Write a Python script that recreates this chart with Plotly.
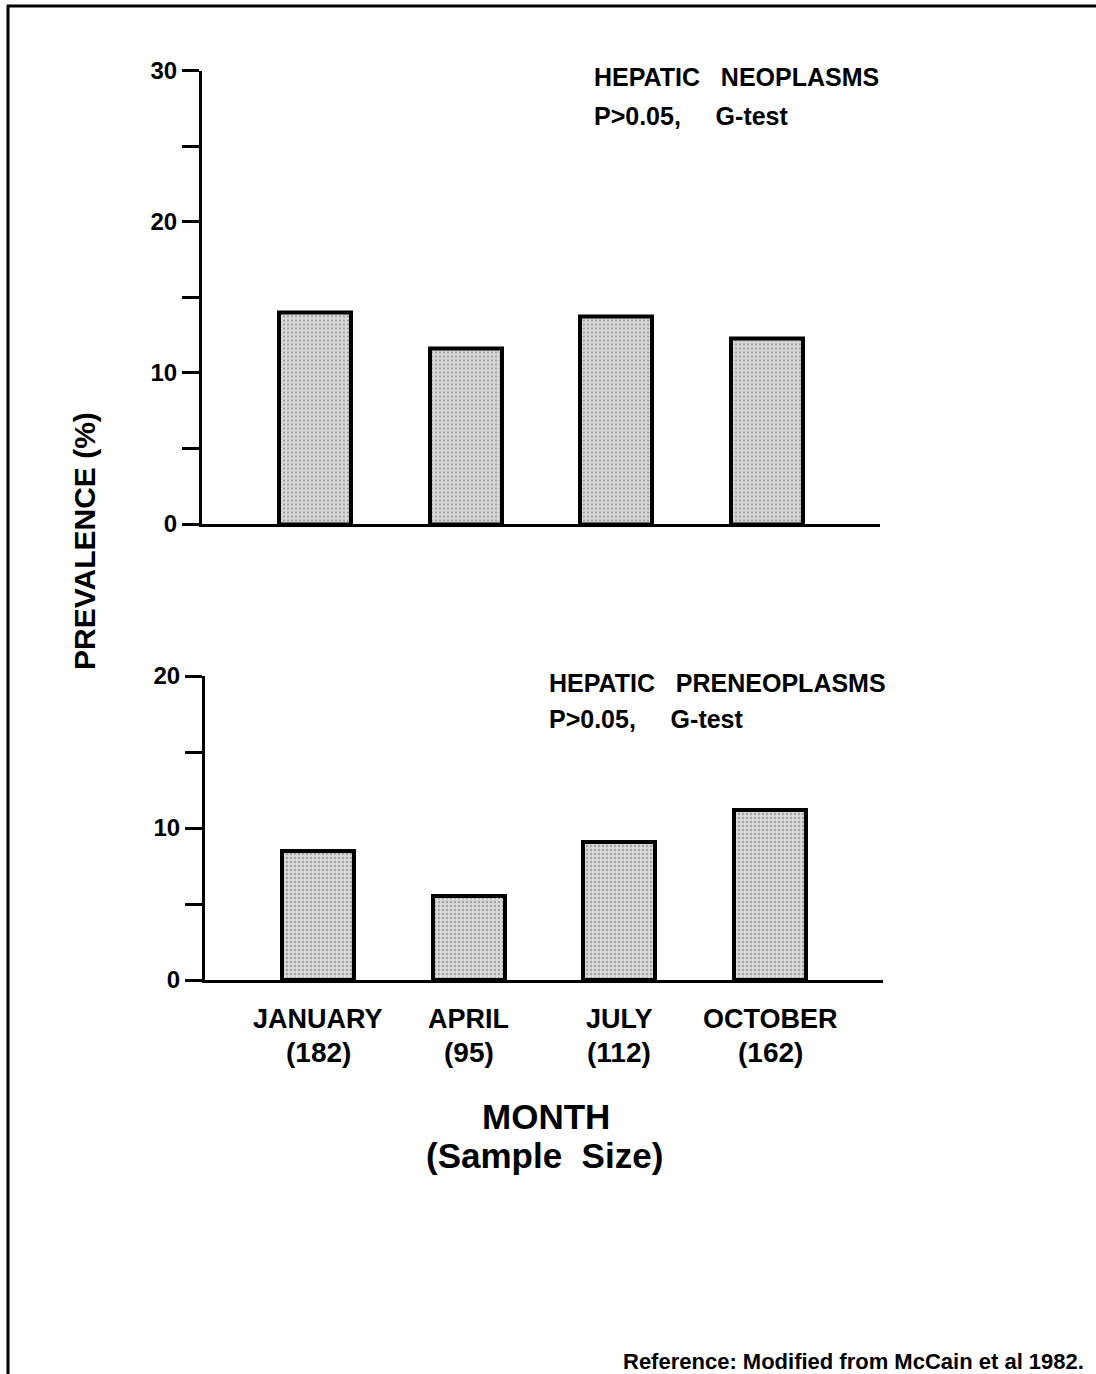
import plotly.graph_objects as go

W, H = 1096, 1374

# ---- data ----
months = ["JANUARY", "APRIL", "JULY", "OCTOBER"]
sample_sizes = ["(182)", "(95)", "(112)", "(162)"]
neoplasms = [14.0, 11.6, 13.7, 12.3]
preneoplasms = [8.5, 5.5, 9.1, 11.2]
top_tickvals = [0, 5, 10, 15, 20, 25, 30]
top_ticktext = ["0", "", "10", "", "20", "", "30"]
bot_tickvals = [0, 5, 10, 15, 20]
bot_ticktext = ["0", "", "10", "", "20"]
NB = "\u00a0"
top_title = ["HEPATIC" + NB * 3 + "NEOPLASMS", "P>0.05," + NB * 5 + "G-test"]
bot_title = ["HEPATIC" + NB * 3 + "PRENEOPLASMS", "P>0.05," + NB * 5 + "G-test"]

FONT = "Arial, Liberation Sans, Helvetica, sans-serif"


def px(x):
    return x / W


def py(y):
    return 1 - y / H


xpos = list(range(len(months)))

bar_style = dict(
    marker=dict(
        color="#cfcfcf",
        line=dict(color="black", width=4),
        pattern=dict(shape=".", fgcolor="#707070", bgcolor="#dadada",
                     size=4, solidity=0.32),
    ),
    width=0.48,
    showlegend=False,
    hoverinfo="skip",
)

fig = go.Figure()
fig.add_trace(go.Bar(x=xpos, y=neoplasms, xaxis="x", yaxis="y", **bar_style))
fig.add_trace(go.Bar(x=xpos, y=preneoplasms, xaxis="x2", yaxis="y2", **bar_style))

tick_font = dict(family=FONT, size=24, color="black", weight="bold")

common_x = dict(range=[-0.75, 3.75], showgrid=False, zeroline=False,
                showline=True, linecolor="black", linewidth=3,
                showticklabels=False, ticks="", fixedrange=True,
                automargin=False)
common_y = dict(showgrid=False, zeroline=False, showline=True,
                linecolor="black", linewidth=3, ticks="outside",
                ticklen=17, tickwidth=3, tickcolor="black",
                tickfont=tick_font, fixedrange=True, automargin=False)

fig.update_layout(
    width=W, height=H, autosize=False,
    margin=dict(l=0, r=0, t=0, b=0, pad=0),
    paper_bgcolor="white", plot_bgcolor="white",
    font=dict(family=FONT, color="black"),
    bargap=0,
    xaxis=dict(domain=[px(202), px(880)], anchor="y", **common_x),
    yaxis=dict(domain=[py(524), py(70.5)], anchor="x", range=[0, 30],
               tickvals=top_tickvals, ticktext=top_ticktext, **common_y),
    xaxis2=dict(domain=[px(205), px(883)], anchor="y2", **common_x),
    yaxis2=dict(domain=[py(980), py(676)], anchor="x2", range=[0, 20],
                tickvals=bot_tickvals, ticktext=bot_ticktext, **common_y),
)

ann = []


def text(t, x, y, size, xanchor="left", angle=0, xref="paper"):
    ann.append(dict(
        text=t, x=x, y=py(y), xref=xref, yref="paper",
        xanchor=xanchor, yanchor="middle", showarrow=False, textangle=angle,
        font=dict(family=FONT, size=size, color="black", weight="bold"),
    ))


# panel titles
text(top_title[0], px(592), 77, 25)
text(top_title[1], px(592), 116, 25)
text(bot_title[0], px(547), 683, 25)
text(bot_title[1], px(547), 719, 25)

# y axis title
text("PREVALENCE (%)", px(85), 541, 30, xanchor="center", angle=-90)

# category labels
for i, (m, s) in enumerate(zip(months, sample_sizes)):
    text(m, xpos[i], 1019, 27, xanchor="center", xref="x2")
    text(s, xpos[i], 1052, 28, xanchor="center", xref="x2")

# x axis title
text("MONTH", px(546), 1116, 35, xanchor="center")
text("(Sample" + NB * 2 + "Size)", px(544), 1155, 35, xanchor="center")

# reference note
ann.append(dict(
    text="Reference: Modified from McCain et al 1982.",
    x=px(1086), y=py(1361), xref="paper", yref="paper",
    xanchor="right", yanchor="middle", showarrow=False,
    font=dict(family=FONT, size=22, color="black", weight="bold"),
))

fig.update_layout(annotations=ann)

# page border (top and left edges)
fig.update_layout(shapes=[
    dict(type="line", xref="paper", yref="paper", x0=px(7), x1=1,
         y0=py(6), y1=py(6), line=dict(color="black", width=3)),
    dict(type="line", xref="paper", yref="paper", x0=px(8), x1=px(8),
         y0=py(5), y1=0, line=dict(color="black", width=3)),
])

post = (
    "document.documentElement.style.margin='0';"
    "document.documentElement.style.padding='0';"
    "document.body.style.margin='0';"
    "document.body.style.padding='0';"
    "document.body.style.overflow='hidden';"
    "var gd=document.getElementById('{plot_id}');"
    "gd.style.position='fixed';gd.style.left='0px';gd.style.top='0px';"
)

fig.write_html(
    "out.html",
    config={"displayModeBar": False, "responsive": False},
    post_script=post,
)
